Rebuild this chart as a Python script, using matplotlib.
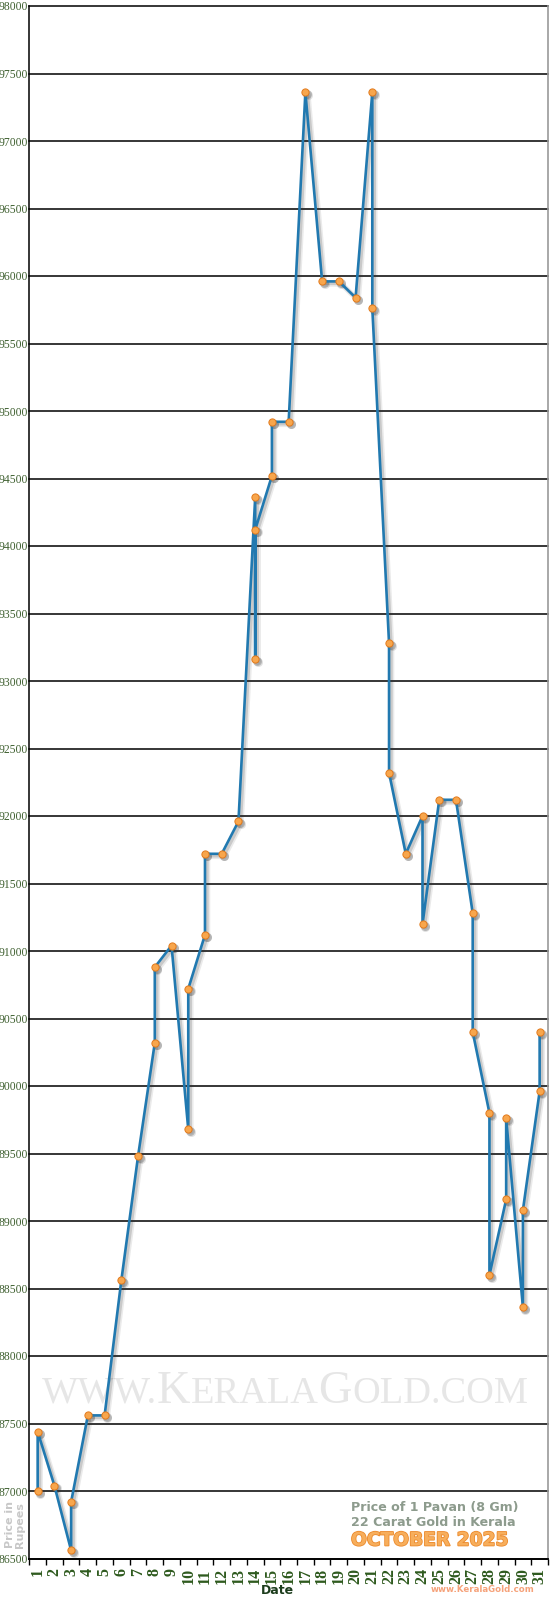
import matplotlib
matplotlib.use('Agg')
import matplotlib.pyplot as plt
import matplotlib.patheffects as pe
from matplotlib.transforms import IdentityTransform, offset_copy

# ---- data (Kerala 22ct gold, price of 1 pavan, October 2025) ----
days = [1, 1, 2, 3, 3, 4, 5, 6, 7, 8, 8, 9, 10, 10, 11, 11, 12, 13,
        14, 14, 14, 15, 15, 16, 17, 18, 19, 20, 21, 21, 22, 22, 23,
        24, 24, 25, 26, 27, 27, 28, 28, 29, 29, 30, 30, 31, 31]
prices = [87000, 87440, 87040, 86560, 86920, 87560, 87560, 88560, 89480,
          90320, 90880, 91040, 89680, 90720, 91120, 91720, 91720, 91960,
          94360, 93160, 94120, 94520, 94920, 94920, 97360, 95960, 95960,
          95840, 97360, 95760, 93280, 92320, 91720, 92000, 91200, 92120,
          92120, 91280, 90400, 89800, 88600, 89160, 89760, 88360, 89080,
          89960, 90400]
day_labels = [str(d) for d in range(1, 32)]
y_ticks = list(range(86500, 98001, 500))

W, H = 550, 1600
fig = plt.figure(figsize=(W / 100, H / 100), dpi=100)
fig.patch.set_facecolor('white')
left, right, top, bottom = 29.3, 548.0, 6.0, 1558.5
ax = fig.add_axes([left / W, (H - bottom) / H, (right - left) / W, (bottom - top) / H])
ax.set_xlim(0.5, 31.5)
ax.set_ylim(86500, 98000)

for y in y_ticks:
    ax.axhline(y, color='black', lw=1.1, zorder=1, clip_on=False)

# soft drop shadow (two layers, offset down-right)
for off, lw, al in [(2.5, 4.0, 0.10), (2.0, 2.4, 0.18)]:
    tr = offset_copy(ax.transData, fig=fig, x=off, y=-off, units='dots')
    ax.plot(days, prices, color='#333333', lw=lw, alpha=al, transform=tr, zorder=2,
            solid_joinstyle='round', solid_capstyle='round')
    ax.plot(days, prices, ls='none', marker='o', ms=6.5, mfc='#333333', mec='none',
            alpha=al * 1.4, transform=tr, zorder=2)

ax.plot(days, prices, color='#2179b0', lw=1.9, zorder=3, solid_joinstyle='round')
ax.plot(days, prices, ls='none', marker='o', ms=5.2,
        mfc='#f8a64c', mec='#e27a1c', mew=0.7, zorder=4)

# spines
ax.spines['top'].set_visible(False)
ax.spines['left'].set_color('black')
ax.spines['left'].set_linewidth(1.1)
ax.spines['bottom'].set_color('black')
ax.spines['bottom'].set_linewidth(1.3)
ax.spines['right'].set_color('#999999')
ax.spines['right'].set_linewidth(1.2)

# x ticks
ax.set_xticks(range(1, 32))
ax.set_xticklabels(day_labels, rotation=90, fontfamily='Liberation Serif',
                   fontweight='bold', fontsize=11.5, color='#2e5a1e')
ax.set_xticks([d + 0.5 for d in range(0, 32)], minor=True)
ax.tick_params(axis='x', which='major', length=0, pad=7)
ax.tick_params(axis='x', which='minor', length=4, width=1, color='black', direction='out')

# y ticks
ax.set_yticks(y_ticks)
ax.set_yticklabels([str(v) for v in y_ticks], fontfamily='Liberation Serif',
                   fontsize=8.4, color='#3f6030')
ax.tick_params(axis='y', length=0, pad=1)


def fx(x):
    return x / W


def fy(y):
    return 1 - y / H


fig.text(fx(277), fy(1591), 'Date', ha='center', va='center', fontfamily='DejaVu Sans',
         fontweight='bold', fontsize=9, color='#1d3d1d')
fig.text(fx(15), fy(1525), 'Price in\nRupees', rotation=90, ha='center', va='center',
         fontfamily='DejaVu Sans', fontweight='bold', fontsize=8, color='#c8c8c8',
         linespacing=1.1, multialignment='center')

fig.text(fx(351), fy(1507), 'Price of 1 Pavan (8 Gm)', ha='left', va='center',
         fontfamily='DejaVu Sans', fontweight='bold', fontsize=9.1, color='#8d9b8d')
fig.text(fx(351), fy(1522), '22 Carat Gold in Kerala', ha='left', va='center',
         fontfamily='DejaVu Sans', fontweight='bold', fontsize=9.1, color='#8d9b8d')
fig.text(fx(351), fy(1540), 'OCTOBER 2025', ha='left', va='center',
         fontfamily='DejaVu Sans', fontweight='bold', fontsize=13.4, color='#f7ae5c',
         path_effects=[pe.withStroke(linewidth=1.2, foreground='#ec8a2c')])
fig.text(fx(534), fy(1590), 'www.KeralaGold.com', ha='right', va='center',
         fontfamily='DejaVu Sans', fontweight='bold', fontsize=6.2, color='#f6a27a')

# watermark in small caps
renderer = fig.canvas.get_renderer()
pieces = [('WWW.', False), ('K', True), ('ERALA', False), ('G', True), ('OLD.COM', False)]


def draw_watermark(big, small):
    x = 42.0
    yb = H - 1402.7
    arts = []
    for s, is_big in pieces:
        t = ax.text(x, yb, s, transform=IdentityTransform(), fontsize=big if is_big else small,
                    fontfamily='Liberation Serif', color='#e6e6e6', va='baseline', ha='left',
                    zorder=0.5)
        bb = t.get_window_extent(renderer)
        x = bb.x1
        arts.append(t)
    return arts, x - 42.0


arts, width = draw_watermark(32.6, 27.0)
factor = 486.0 / width
for a in arts:
    a.remove()
draw_watermark(32.6 * factor, 27.0 * factor)

fig.savefig('out.png', dpi=100)
